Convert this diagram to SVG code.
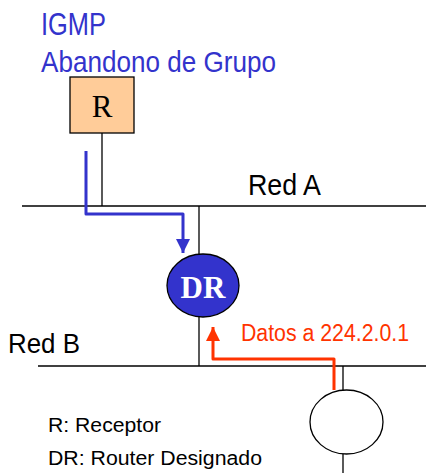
<svg xmlns="http://www.w3.org/2000/svg" width="426" height="473" viewBox="0 0 426 473">
<style>
.t{font-family:"Liberation Sans",Arial,sans-serif}
.blue{fill:#3333cc}
.red{fill:#ff3300}
.ln{stroke:#000;stroke-width:1.3;fill:none}
</style>
<defs>
<marker id="ab" viewBox="0 0 10 10" refX="10" refY="5" markerWidth="14" markerHeight="14" markerUnits="userSpaceOnUse" orient="auto"><path d="M0,0L10,5L0,10z" fill="#3333cc"/></marker>
<marker id="ar" viewBox="0 0 10 10" refX="10" refY="5" markerWidth="14" markerHeight="14" markerUnits="userSpaceOnUse" orient="auto"><path d="M0,0L10,5L0,10z" fill="#ff3300"/></marker>
</defs>
<rect width="426" height="473" fill="#fff"/>
<text class="t blue" x="41" y="35" font-size="31" textLength="65" lengthAdjust="spacingAndGlyphs">IGMP</text>
<text class="t blue" x="41" y="72" font-size="30" textLength="235" lengthAdjust="spacingAndGlyphs">Abandono de Grupo</text>
<text class="t" x="248" y="195" font-size="30" textLength="73" lengthAdjust="spacingAndGlyphs">Red A</text>
<text class="t" x="8" y="353" font-size="28" textLength="72" lengthAdjust="spacingAndGlyphs">Red B</text>
<text class="t red" transform="translate(241,341) scale(1,1.15)" font-size="21.3">Datos a 224.2.0.1</text>
<text class="t" x="48" y="432" font-size="20" textLength="113" lengthAdjust="spacingAndGlyphs">R: Receptor</text>
<text class="t" x="48" y="465" font-size="20" textLength="214" lengthAdjust="spacingAndGlyphs">DR: Router Designado</text>
<g id="connectors">
<line class="ln" x1="22" y1="206" x2="426" y2="206"/>
<line class="ln" x1="38" y1="366" x2="426" y2="366"/>
<line class="ln" x1="102" y1="133" x2="102" y2="206"/>
<line class="ln" x1="199" y1="206" x2="199" y2="254"/>
<line class="ln" x1="199" y1="317" x2="199" y2="366"/>
<line class="ln" x1="343" y1="366" x2="343" y2="390"/>
<line class="ln" x1="343" y1="454" x2="343" y2="473"/>
<path d="M86,151V214H183V253" fill="none" stroke="#3333cc" stroke-width="3" stroke-linejoin="round" marker-end="url(#ab)"/>
<path d="M334,390V359H213V327" fill="none" stroke="#ff3300" stroke-width="3" stroke-linejoin="round" marker-end="url(#ar)"/>
</g>
<g id="R">
<rect x="70" y="77" width="64" height="56" fill="#ffcc99" stroke="#000" stroke-width="1.3"/>
<text x="102" y="117" font-family="'Liberation Serif','Times New Roman',serif" font-size="31" text-anchor="middle">R</text>
</g>
<g id="DR">
<ellipse cx="203" cy="285.5" rx="36" ry="31.5" fill="#3333cc" stroke="#000" stroke-width="1.3"/>
<text x="203" y="298" font-family="'Liberation Serif','Times New Roman',serif" font-size="31" font-weight="bold" fill="#fff" text-anchor="middle">DR</text>
</g>
<g id="host">
<ellipse cx="346.5" cy="422" rx="36.5" ry="32" fill="#fff" stroke="#000" stroke-width="1.3"/>
</g>
</svg>
